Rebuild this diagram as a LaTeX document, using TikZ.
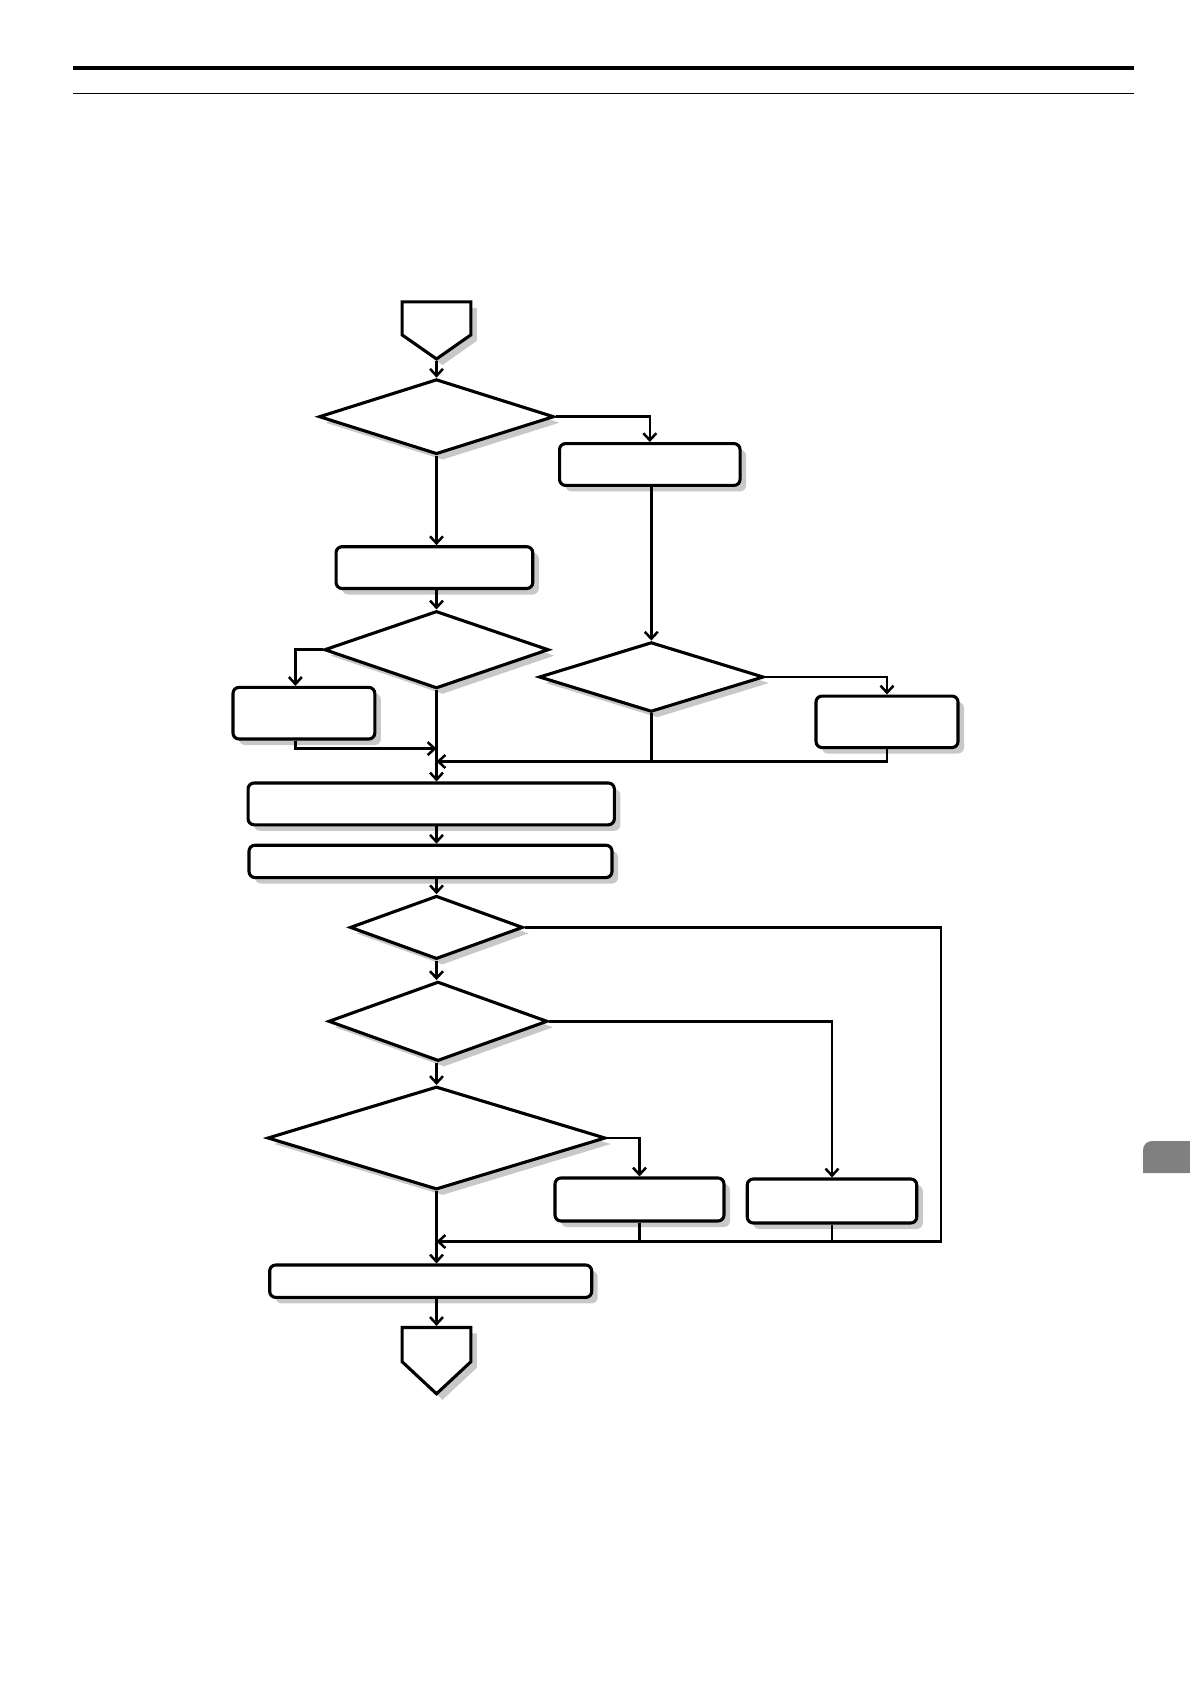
\documentclass[tikz,border=0pt]{standalone}
\usepackage{tikz}
\usetikzlibrary{shapes.geometric,shapes.symbols,arrows.meta,shadows,calc}
\definecolor{shadowgray}{RGB}{200,200,200}
\definecolor{tabgray}{RGB}{128,128,128}
\tikzset{
	shad/.style = {drop shadow={shadow xshift=6pt,shadow yshift=-6pt,
			fill=shadowgray,opacity=1}},
	proc/.style = {rectangle,rounded corners=6pt,draw=black,line width=3.1pt,
		fill=white,inner sep=0pt,shad},
	dec/.style  = {diamond,draw=black,line width=3.1pt,fill=white,
		inner sep=0pt,shad},
	term/.style = {signal,signal to=south,signal from=nowhere,draw=black,
		line width=3.1pt,fill=white,inner sep=0pt,shad},
	arr/.style  = {-{Straight Barb[length=7pt,width=13pt]},line width=2.5pt},
	ln/.style   = {line width=2.5pt},
}
\begin{document}
\begin{tikzpicture}[x=1pt,y=-1pt]
	\useasboundingbox (0,0) rectangle (1190,1684);
	%% Page header
	\draw[line width=4.2pt] (73,67.7) -- (1134,67.7);
	\draw[line width=1.4pt] (73,93.4) -- (1134,93.4);
	\fill[tabgray] (1143,1173) [rounded corners=9pt] -- (1143,1141)
	[sharp corners] -- (1190,1141) -- (1190,1173) -- cycle;
	
	%% Upper part
	\node (start) [term,minimum width=68.7pt,minimum height=33pt,
	signal pointer angle=110] at (436.5,318.4) {};
	\node (d1) [dec,minimum width=235pt,minimum height=75pt] at (436.5,416.7) {};
	\node (r1) [proc,minimum width=180.5pt,minimum height=41.8pt] at (649.8,464.5) {};
	\node (l1) [proc,minimum width=196.7pt,minimum height=41.8pt] at (434.4,567.6) {};
	\node (d2) [dec,minimum width=224.4pt,minimum height=77.4pt] at (436.5,649.7) {};
	\node (l2) [proc,minimum width=141.8pt,minimum height=51.6pt] at (303.9,713.2) {};
	\node (d3) [dec,minimum width=224.6pt,minimum height=69.7pt] at (651.3,677) {};
	\node (r2) [proc,minimum width=142pt,minimum height=51.5pt] at (887,721.8) {};
	
	%% Middle part
	\node (b3) [proc,minimum width=366.3pt,minimum height=41.8pt] at (431.2,803.9) {};
	\node (b4) [proc,minimum width=363pt,minimum height=32.3pt] at (430.5,861.4) {};
	\node (d4) [dec,minimum width=173pt,minimum height=63.3pt] at (436.5,927.4) {};
	\node (d5) [dec,minimum width=219pt,minimum height=79.4pt] at (438,1021.3) {};
	\node (d6) [dec,minimum width=338pt,minimum height=103pt] at (436.5,1138) {};
	\node (r3) [proc,minimum width=169pt,minimum height=43pt] at (639.5,1199.5) {};
	\node (r4) [proc,minimum width=169.5pt,minimum height=44pt] at (832,1201) {};
	
	%% Lower part
	\node (b5) [proc,minimum width=322pt,minimum height=32.4pt] at (430.7,1281.2) {};
	\node (stop) [term,minimum width=68.7pt,minimum height=34.3pt,
	signal pointer angle=94] at (436.5,1344.6) {};
	
	%% Junctions on the main line
	\coordinate (m1) at (436.5,748.6);
	\coordinate (m2) at (436.5,761.5);
	\coordinate (m3) at (436.5,1241.5);
	\coordinate (c4) at (940.8,927.4);
	
	%% Connectors
	\draw[arr] (start.south) -- (d1.north);
	\draw[arr] (d1.east) -| (r1.north);
	\draw[arr] (d1.south) -- (d1.south |- l1.north);
	\draw[arr] (l1.south -| d2.north) -- (d2.north);
	\draw[arr] (d2.west) -| ([xshift=-8.5pt]l2.north);
	\draw[arr] ([xshift=-8.5pt]l2.south) |- (m1);
	\draw[arr] (d2.south) -- (d2.south |- b3.north);
	\draw[arr] (r1.south -| d3.north) -- (d3.north);
	\draw[arr] (d3.east) -| (r2.north);
	\draw[ln]  (d3.south) -- (d3.south |- m2);
	\draw[arr] (r2.south) |- (m2);
	\draw[arr] (b3.south -| d4.north) -- (b4.north -| d4.north);
	\draw[arr] (b4.south -| d4.north) -- (d4.north);
	\draw[arr] (d4.east) -- (c4) |- (m3);
	\draw[arr] (d4.south) -- (d4.south |- d5.north);
	\draw[arr] (d5.east) -| (r4.north);
	\draw[arr] (d5.south -| d6.north) -- (d6.north);
	\draw[arr] (d6.east) -| (r3.north);
	\draw[ln]  (r3.south) -- (r3.south |- m3);
	\draw[ln]  (r4.south) -- (r4.south |- m3);
	\draw[arr] (d6.south) -- (d6.south |- b5.north);
	\draw[arr] (b5.south -| stop.north) -- (stop.north);
\end{tikzpicture}
\end{document}
